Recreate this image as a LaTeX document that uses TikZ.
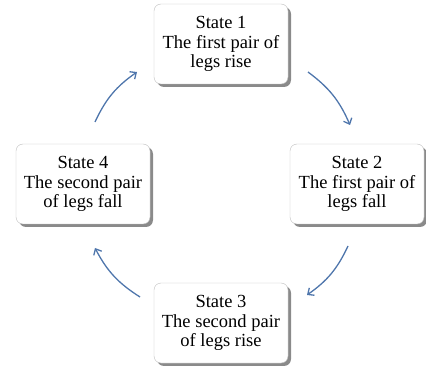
\documentclass[tikz,border=0pt]{standalone}
\usepackage{fontspec}
\setmainfont{Liberation Serif}
\usetikzlibrary{arrows.meta, shadows}

\definecolor{arrowblue}{RGB}{79,118,172}

\begin{document}
\begin{tikzpicture}[
    x=1pt, y=-1pt,
    state/.style={rectangle, rounded corners=7pt, draw=gray!50, fill=white,
        minimum width=134pt, minimum height=80pt, align=center,
        font=\fontsize{18.5}{19.5}\selectfont, inner sep=1pt,
        drop shadow={shadow xshift=3pt, shadow yshift=-3pt, fill=gray!70!black, opacity=0.7}},
    flow/.style={arrowblue, line width=1.3pt, -{Straight Barb[length=5pt, width=9pt]}},
]
    \useasboundingbox (0,0) rectangle (426,366);

    % --- States ---
    \node[state] (S1) at (221,44)  {State 1\\The first pair of\\legs rise};
    \node[state] (S2) at (357,184) {State 2\\The first pair of\\legs fall};
    \node[state] (S3) at (221,323) {State 3\\The second pair\\of legs rise};
    \node[state] (S4) at (83,184)  {State 4\\The second pair\\of legs fall};

    % --- Arrow ends ---
    \coordinate (A12) at (308,72);
    \coordinate (B12) at (350,125);
    \coordinate (A23) at (348,246);
    \coordinate (B23) at (307,295);
    \coordinate (A34) at (140,297);
    \coordinate (B34) at (95,248);
    \coordinate (A41) at (95,122);
    \coordinate (B41) at (137,72);

    % --- Cycle ---
    \draw[flow] (A12) to[bend left=15] (B12);
    \draw[flow] (A23) to[bend left=15] (B23);
    \draw[flow] (A34) to[bend left=15] (B34);
    \draw[flow] (A41) to[bend left=15] (B41);

\end{tikzpicture}
\end{document}
